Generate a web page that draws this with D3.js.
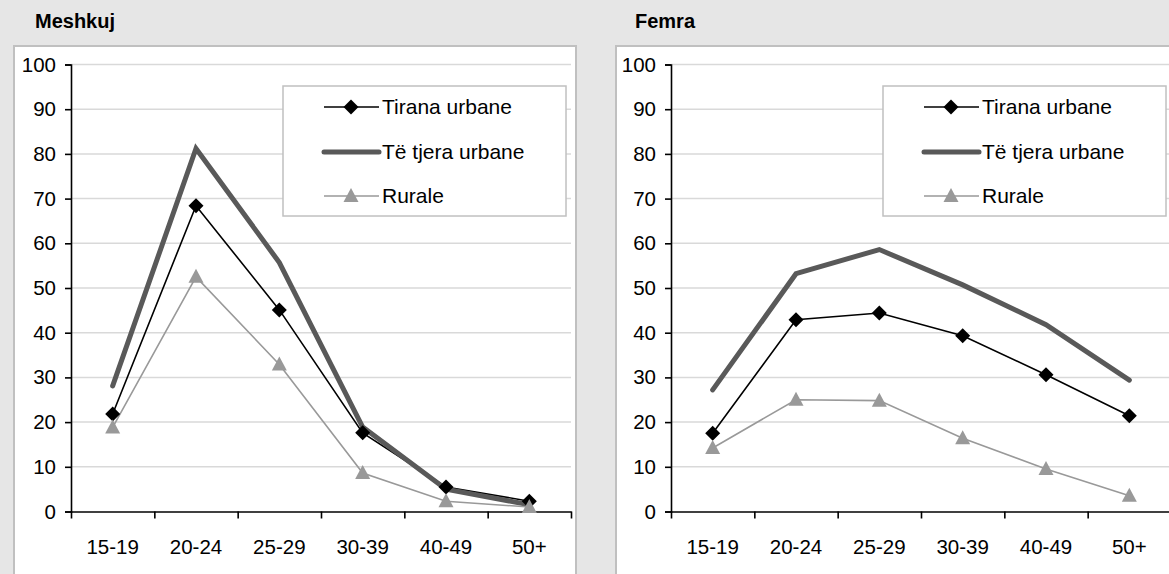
<!DOCTYPE html>
<html>
<head>
<meta charset="utf-8">
<script src="https://cdn.jsdelivr.net/npm/d3@7"></script>
<style>
  body { margin: 0; background: #e6e6e6; }
  svg { display: block; font-family: "Liberation Sans", Arial, sans-serif; }
</style>
</head>
<body>
<svg width="1169" height="574"></svg>
<script>
// categories and series
var categories = ["15-19", "20-24", "25-29", "30-39", "40-49", "50+"];
var seriesNames = ["Tirana urbane", "Të tjera urbane", "Rurale"];
var yTicks = [0, 10, 20, 30, 40, 50, 60, 70, 80, 90, 100];

// Meshkuj
var maleTirana = [21.8, 68.4, 45.1, 17.6, 5.5, 2.3];
var maleOther  = [28.1, 81.2, 55.7, 18.9, 5.0, 1.5];
var maleRural  = [18.8, 52.5, 32.9, 8.6, 2.3, 1.0];

// Femra
var femTirana = [17.5, 42.9, 44.4, 39.3, 30.6, 21.4];
var femOther  = [27.2, 53.2, 58.6, 50.7, 41.8, 29.4];
var femRural  = [14.2, 25.0, 24.8, 16.4, 9.5, 3.5];

var svg = d3.select("svg");

var styles = [
    {stroke: "#000000", width: 1.6, marker: "diamond", fill: "#000000"},
    {stroke: "#595959", width: 5, marker: null},
    {stroke: "#999999", width: 1.6, marker: "triangle", fill: "#999999"}
];

function drawPanel(ox, frameX, title, data) {
    var g = svg.append("g").attr("transform", "translate(" + ox + ",0)");

    // title
    g.append("text")
        .attr("x", 35).attr("y", 28)
        .style("font-size", "20px")
        .style("font-weight", "bold")
        .text(title);

    // white frame
    g.append("rect")
        .attr("x", frameX).attr("y", 46)
        .attr("width", 576 - frameX).attr("height", 600)
        .style("fill", "#ffffff")
        .style("stroke", "#c0c0c0")
        .style("stroke-width", 2);

    var x = d3.scaleBand().domain(categories).range([71, 571]);
    var xTick = d3.scaleLinear().domain([0, categories.length]).range([71, 571]);
    var y = d3.scaleLinear().domain([0, 100]).range([511.5, 64.5]);

    // gridlines
    g.append("g")
        .selectAll("line")
        .data(yTicks.slice(1))
        .enter().append("line")
        .attr("x1", 71).attr("x2", 571)
        .attr("y1", function(d) { return y(d); })
        .attr("y2", function(d) { return y(d); })
        .style("stroke", "#d9d9d9")
        .style("stroke-width", 1.5);

    // y axis
    var ya = g.append("g")
        .attr("transform", "translate(71,0)")
        .call(d3.axisLeft(y).tickValues(yTicks).tickSize(6).tickPadding(9));
    ya.select(".domain").style("stroke-width", 1.6);
    ya.selectAll(".tick line").style("stroke-width", 1.6);
    ya.selectAll("text").style("font-size", "20.5px").style("fill", "#000");

    // x axis ticks (between categories)
    var xa = g.append("g")
        .attr("transform", "translate(0," + y(0) + ")")
        .call(d3.axisBottom(xTick).tickValues(d3.range(0, categories.length + 1))
              .tickSize(7).tickSizeOuter(0).tickFormat(""));
    xa.select(".domain").style("stroke-width", 1.6);
    xa.selectAll(".tick line").style("stroke-width", 1.6);

    // x labels
    g.append("g")
        .attr("transform", "translate(0," + y(0) + ")")
        .call(d3.axisBottom(x).tickSize(0).tickPadding(28))
        .call(function(s) { s.select(".domain").remove(); })
        .selectAll("text").style("font-size", "20.5px").style("fill", "#000");

    // legend
    var lg = g.append("g").attr("transform", "translate(283,86)");
    lg.append("rect")
        .attr("width", 283).attr("height", 130)
        .style("fill", "#ffffff")
        .style("stroke", "#c0c0c0")
        .style("stroke-width", 1.5);
    var rowY = [21, 66, 110];
    seriesNames.forEach(function(name, i) {
        var st = styles[i];
        lg.append("line")
            .attr("x1", 41).attr("x2", 96)
            .attr("y1", rowY[i]).attr("y2", rowY[i])
            .style("stroke", st.stroke)
            .style("stroke-width", st.width)
            .style("stroke-linecap", st.marker ? "butt" : "round");
        if (st.marker) {
            lg.append("path")
                .attr("transform", "translate(68," + rowY[i] + ")")
                .attr("d", markerPath(st.marker))
                .style("fill", st.fill);
        }
        lg.append("text")
            .attr("x", 99).attr("y", rowY[i])
            .attr("dy", "0.35em")
            .style("font-size", "21px")
            .text(name);
    });

    // lines
    var line = d3.line()
        .x(function(d, i) { return x(categories[i]) + x.bandwidth() / 2; })
        .y(function(d) { return y(d); });

    data.forEach(function(vals, i) {
        g.append("path")
            .datum(vals)
            .attr("d", line)
            .style("fill", "none")
            .style("stroke", styles[i].stroke)
            .style("stroke-width", styles[i].width)
            .style("stroke-linecap", "round");
    });

    // markers on top
    data.forEach(function(vals, i) {
        if (!styles[i].marker) return;
        g.append("g").selectAll("path")
            .data(vals)
            .enter().append("path")
            .attr("transform", function(d, j) {
                return "translate(" + (x(categories[j]) + x.bandwidth() / 2) + "," + y(d) + ")";
            })
            .attr("d", markerPath(styles[i].marker))
            .style("fill", styles[i].fill);
    });
}

function markerPath(type) {
    if (type === "diamond") return "M0,-7.5L7.5,0L0,7.5L-7.5,0Z";
    return "M0,-8L7.5,6L-7.5,6Z";
}

drawPanel(0, 14, "Meshkuj", [maleTirana, maleOther, maleRural]);
drawPanel(600, 16, "Femra", [femTirana, femOther, femRural]);
</script>
</body>
</html>
